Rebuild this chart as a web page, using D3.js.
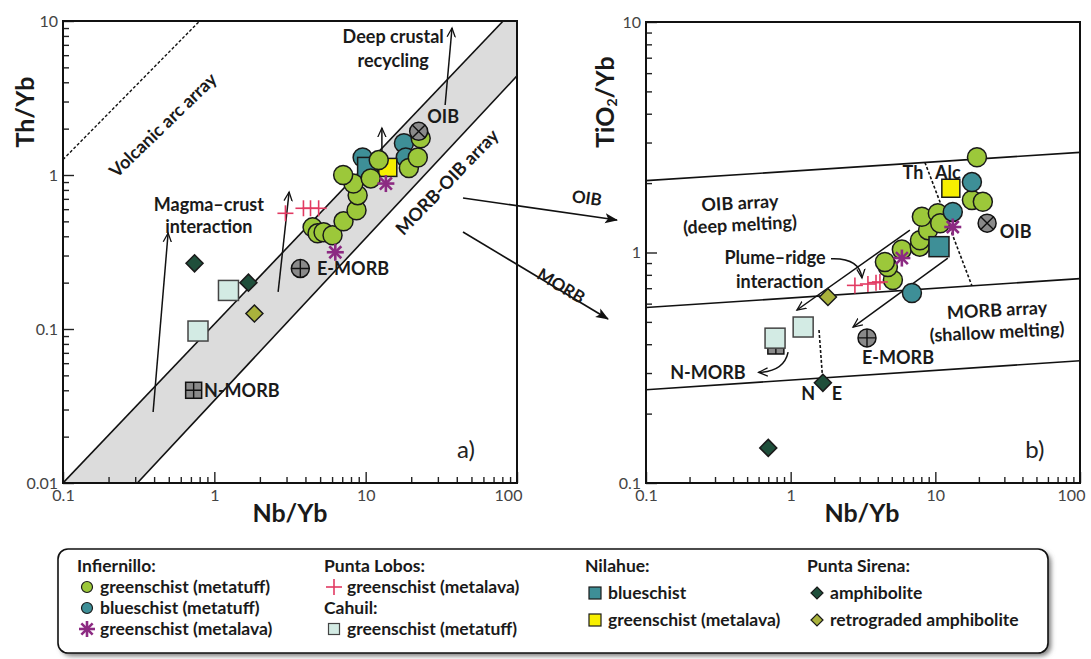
<!DOCTYPE html>
<html>
<head>
<meta charset="utf-8">
<script src="https://cdn.jsdelivr.net/npm/d3@7"></script>
<style>
body { margin: 0; background: #fff; }
text { font-family: Lato, "Open Sans", sans-serif; }
</style>
</head>
<body>
<svg id="fig" width="1091" height="659"></svg>
<script>
// ---- data, panel a) Th/Yb vs Nb/Yb ----
var infGreenTuffA = [[4.46,0.457],[4.81,0.418],[5.27,0.425],[6.04,0.406],[7.14,0.50],[8.7,0.59],[8.85,0.74],[8.3,0.88],[7.1,1.0],[10.8,0.95],[12.2,1.25],[19.3,1.11],[22.1,1.30],[23.1,1.73]];
var infBlueTuffA = [[9.55,1.30],[17.9,1.61],[18.4,1.30]];
var infGreenLavaA = [[13.6,0.88],[6.3,0.315]];
var lobosLavaA = [[2.95,0.564],[3.88,0.608],[4.32,0.608],[4.89,0.608]];
var cahuilTuffA = [[1.24,0.178],[0.78,0.097]];
var nilBlueA = [[10.3,1.12]];
var nilGreenLavaA = [[14.0,1.12]];
var sirenaAmphA = [[0.74,0.267],[1.68,0.20]];
var sirenaRetroA = [[1.84,0.126]];
var refA = [[0.73,0.04],[3.7,0.247],[22.4,1.92]];   // N-MORB, E-MORB, OIB

// ---- data, panel b) TiO2/Yb vs Nb/Yb ----
var infGreenTuffB = [[5.09,0.76],[4.70,0.865],[4.48,0.91],[5.87,1.03],[7.8,1.06],[7.83,1.13],[8.9,1.25],[8.07,1.43],[10.4,1.48],[10.8,1.34],[17.9,1.69],[21.3,1.66],[19.4,2.59]];
var infBlueTuffB = [[17.9,2.02],[13.2,1.50],[6.89,0.667]];
var infGreenLavaB = [[13.2,1.29],[5.87,0.946]];
var lobosLavaB = [[2.78,0.72],[3.42,0.73],[3.89,0.74],[4.14,0.745]];
var cahuilTuffB = [[0.78,0.425],[1.22,0.475]];
var nilBlueB = [[10.6,1.06]];
var nilGreenLavaB = [[12.8,1.90]];
var sirenaAmphB = [[0.70,0.142],[1.67,0.272]];
var sirenaRetroB = [[1.81,0.641]];
var refB = [[0.79,0.393],[3.37,0.426],[22.8,1.34]];

// array boundaries
var volcanicArc = [[0.1,1.26],[0.8,10]];
var morbOibBand = [[0.1,0.01],[81,10],[100,10],[100,4.4],[0.31,0.01]];
var oibArrayTop = [[0.1,2.05],[100,2.72]];
var morbOibDivide = [[0.1,0.577],[100,0.77]];
var morbArrayBottom = [[0.1,0.254],[100,0.339]];
var thAlcDivide = [[8.47,2.46],[17.9,0.717]];
var nEDivide = [[1.57,0.461],[1.67,0.274]];

var colors = {
  green: "#9cc83a", teal: "#3e8f97", yellow: "#f7ef00", purple: "#8c2a82",
  red: "#e23a62", mint: "#d3ebe4", amph: "#1f4f3b", retro: "#a9b23c", ref: "#8a8a8a"
};

var svg = d3.select("#fig");
var defs = svg.append("defs");
defs.append("marker").attr("id", "open").attr("viewBox", "0 -6 12 12")
  .attr("refX", 10).attr("refY", 0).attr("markerWidth", 11).attr("markerHeight", 11)
  .attr("markerUnits", "userSpaceOnUse").attr("orient", "auto")
  .append("path").attr("d", "M0,-4.5L10,0L0,4.5").attr("fill", "none").attr("stroke", "#111").attr("stroke-width", 1.4);
defs.append("marker").attr("id", "solid").attr("viewBox", "0 -6 14 12")
  .attr("refX", 12).attr("refY", 0).attr("markerWidth", 14).attr("markerHeight", 12)
  .attr("markerUnits", "userSpaceOnUse").attr("orient", "auto")
  .append("path").attr("d", "M0,-5L13,0L0,5L3,0Z").attr("fill", "#111");
var shadow = defs.append("filter").attr("id", "shadow").attr("x", "-5%").attr("y", "-20%").attr("width", "110%").attr("height", "150%");
shadow.append("feGaussianBlur").attr("stdDeviation", 2.5);

function logTicks(lo, hi) {
  var t = [];
  for (var e = Math.round(Math.log10(lo)); e < Math.round(Math.log10(hi)); e++) {
    for (var m = 1; m < 10; m++) t.push(m * Math.pow(10, e));
  }
  t.push(hi);
  return t;
}
function isMajor(d) { var l = Math.log10(d); return Math.abs(l - Math.round(l)) < 1e-6; }
function fmt(d) { return isMajor(d) ? d3.format("~g")(+d.toPrecision(3)) : ""; }

function makePanel(id, xr, yr, ydom) {
  var x = d3.scaleLog().domain([0.1, 100]).range(xr);
  var y = d3.scaleLog().domain(ydom).range(yr);
  var g = svg.append("g");
  defs.append("clipPath").attr("id", "clip" + id).append("rect")
    .attr("x", xr[0]).attr("y", yr[1]).attr("width", xr[1] - xr[0]).attr("height", yr[0] - yr[1]);
  var inner = g.append("g").attr("clip-path", "url(#clip" + id + ")");

  var xa = g.append("g").attr("transform", "translate(0," + yr[0] + ")")
    .call(d3.axisBottom(x).tickValues(logTicks(0.1, 100)).tickSizeInner(-6).tickSizeOuter(0).tickPadding(7).tickFormat(fmt));
  var ya = g.append("g").attr("transform", "translate(" + xr[0] + ",0)")
    .call(d3.axisLeft(y).tickValues(logTicks(ydom[0], ydom[1])).tickSizeInner(-6).tickSizeOuter(0).tickPadding(5).tickFormat(fmt));
  [xa, ya].forEach(function(a) {
    a.select(".domain").remove();
    a.selectAll("line").attr("stroke", "#222").attr("stroke-width", 1.4);
    a.selectAll("text").attr("font-size", 16).attr("fill", "#444").attr("font-family", "Lato, sans-serif");
  });
  xa.selectAll(".tick").filter(isMajor).select("line").attr("y2", -11);
  ya.selectAll(".tick").filter(isMajor).select("line").attr("x2", 11);
  // the last label sits a little left of its tick, as in the print
  xa.selectAll(".tick").filter(function(d) { return d === 100; }).select("text").attr("x", -9);
  g.append("rect").attr("x", xr[0]).attr("y", yr[1]).attr("width", xr[1] - xr[0]).attr("height", yr[0] - yr[1])
    .attr("fill", "none").attr("stroke", "#111").attr("stroke-width", 2);
  return {x: x, y: y, g: g, inner: inner};
}

var pa = makePanel("a", [63, 517], [483, 21], [0.01, 10]);
var pb = makePanel("b", [646, 1080], [483, 22], [0.1, 10]);

function lineOf(p, pts) {
  return d3.line().x(function(d) { return p.x(d[0]); }).y(function(d) { return p.y(d[1]); })(pts);
}

// panel a boundaries
pa.inner.insert("path", ":first-child").attr("d", lineOf(pa, morbOibBand) + "Z").attr("fill", "#dcdcdc");
pa.inner.append("path").attr("d", lineOf(pa, [morbOibBand[0], morbOibBand[1]])).attr("stroke", "#111").attr("stroke-width", 1.6).attr("fill", "none");
pa.inner.append("path").attr("d", lineOf(pa, [morbOibBand[3], morbOibBand[4]])).attr("stroke", "#111").attr("stroke-width", 1.6).attr("fill", "none");
pa.inner.append("path").attr("d", lineOf(pa, volcanicArc)).attr("stroke", "#111").attr("stroke-width", 1.4).attr("stroke-dasharray", "3,2").attr("fill", "none");

// panel b boundaries
[oibArrayTop, morbOibDivide, morbArrayBottom].forEach(function(l) {
  pb.inner.append("path").attr("d", lineOf(pb, l)).attr("stroke", "#111").attr("stroke-width", 1.6).attr("fill", "none");
});
[thAlcDivide, nEDivide].forEach(function(l) {
  pb.inner.append("path").attr("d", lineOf(pb, l)).attr("stroke", "#111").attr("stroke-width", 1.6).attr("stroke-dasharray", "3,2").attr("fill", "none");
});

// annotation arrows (data coordinates)
var arrowsA = [
  [[0.394,0.0289],[0.495,0.42]],
  [[2.64,0.174],[3.12,0.776]],
  [[12.8,1.39],[12.8,2.02]],
  [[33.5,2.85],[37.2,9.0]]
];
arrowsA.forEach(function(a) {
  pa.g.append("path").attr("d", lineOf(pa, a)).attr("stroke", "#111").attr("stroke-width", 1.5).attr("fill", "none").attr("marker-end", "url(#open)");
});
var arrowsB = [
  [[6.67,1.25],[1.105,0.563]],
  [[12.2,0.946],[2.70,0.475]]
];
arrowsB.forEach(function(a) {
  pb.g.append("path").attr("d", lineOf(pb, a)).attr("stroke", "#111").attr("stroke-width", 1.5).attr("fill", "none").attr("marker-end", "url(#open)");
});
// curved arrows in panel b: start, control, end
var curvesB = [
  [[1.9,0.94],[3.0,0.95],[3.11,0.775]],
  [[0.96,0.37],[0.9,0.305],[0.6,0.302]]
];
curvesB.forEach(function(c) {
  var p = c.map(function(d) { return [pb.x(d[0]), pb.y(d[1])]; });
  pb.g.append("path").attr("d", "M" + p[0] + "Q" + p[1] + " " + p[2])
    .attr("stroke", "#111").attr("stroke-width", 1.5).attr("fill", "none").attr("marker-end", "url(#open)");
});

// ---- symbols ----
function addMarks(p, pts, kind, s) {
  var m = p.g.selectAll(null).data(pts).enter().append("g")
    .attr("transform", function(d) { return "translate(" + p.x(d[0]) + "," + p.y(d[1]) + ")"; });
  drawSymbol(m, kind, s);
}
function drawSymbol(m, kind, s) {
  var sw = s > 7 ? 1.5 : 1.2;
  if (kind === "greenTuff" || kind === "blueTuff") {
    m.append("circle").attr("r", s).attr("fill", kind === "greenTuff" ? colors.green : colors.teal).attr("stroke", "#1a1a1a").attr("stroke-width", sw);
  } else if (kind === "nilBlue" || kind === "nilGreen" || kind === "cahuil") {
    var f = kind === "nilBlue" ? colors.teal : (kind === "nilGreen" ? colors.yellow : colors.mint);
    m.append("rect").attr("x", -s).attr("y", -s).attr("width", 2 * s).attr("height", 2 * s)
      .attr("fill", f).attr("stroke", kind === "cahuil" ? "#444" : "#1a1a1a").attr("stroke-width", sw);
  } else if (kind === "amph" || kind === "retro") {
    m.append("path").attr("d", "M0," + (-s) + "L" + s + ",0L0," + s + "L" + (-s) + ",0Z")
      .attr("fill", kind === "amph" ? colors.amph : colors.retro).attr("stroke", "#1a1a1a").attr("stroke-width", sw);
  } else if (kind === "star") {
    [0, 45, 90, 135].forEach(function(a) {
      m.append("line").attr("x1", -s).attr("x2", s).attr("y1", 0).attr("y2", 0)
        .attr("transform", "rotate(" + a + ")").attr("stroke", colors.purple).attr("stroke-width", s > 7 ? 2.6 : 2.2);
    });
  } else if (kind === "plus") {
    m.append("line").attr("x1", -s).attr("x2", s).attr("stroke", colors.red).attr("stroke-width", 1.6);
    m.append("line").attr("y1", -s).attr("y2", s).attr("stroke", colors.red).attr("stroke-width", 1.6);
  }
}
function addRefs(p, pts) {
  var m = p.g.selectAll(null).data(pts).enter().append("g")
    .attr("transform", function(d) { return "translate(" + p.x(d[0]) + "," + p.y(d[1]) + ")"; });
  m.each(function(d, i) {
    var e = d3.select(this);
    if (i === 0) {
      e.append("rect").attr("x", -8).attr("y", -8).attr("width", 16).attr("height", 16).attr("fill", colors.ref).attr("stroke", "#111").attr("stroke-width", 1.5);
      e.append("path").attr("d", "M0,-8V8M-8,0H8").attr("stroke", "#111").attr("stroke-width", 1.4);
    } else {
      e.append("circle").attr("r", 9).attr("fill", colors.ref).attr("stroke", "#111").attr("stroke-width", 1.5);
      e.append("path").attr("d", i === 1 ? "M0,-9V9M-9,0H9" : "M-6.4,-6.4L6.4,6.4M-6.4,6.4L6.4,-6.4")
        .attr("stroke", "#111").attr("stroke-width", 1.4);
    }
  });
}

// panel a marks
addMarks(pa, lobosLavaA, "plus", 8);
addMarks(pa, cahuilTuffA, "cahuil", 10);
addMarks(pa, sirenaAmphA, "amph", 8.5);
addMarks(pa, sirenaRetroA, "retro", 8.5);
addMarks(pa, infBlueTuffA, "blueTuff", 9.5);
addMarks(pa, nilBlueA, "nilBlue", 10);
addMarks(pa, nilGreenLavaA, "nilGreen", 9);
addMarks(pa, infGreenTuffA, "greenTuff", 9.5);
addMarks(pa, infGreenLavaA, "star", 8.5);
addRefs(pa, refA);

// panel b marks
addRefs(pb, refB);
addMarks(pb, cahuilTuffB, "cahuil", 10);
addMarks(pb, sirenaAmphB, "amph", 8.5);
addMarks(pb, sirenaRetroB, "retro", 8.5);
addMarks(pb, infGreenTuffB, "greenTuff", 9.5);
addMarks(pb, infBlueTuffB, "blueTuff", 9.5);
addMarks(pb, nilBlueB, "nilBlue", 10);
addMarks(pb, nilGreenLavaB, "nilGreen", 9);
addMarks(pb, infGreenLavaB, "star", 8.5);
addMarks(pb, lobosLavaB, "plus", 8);

// ---- labels (data coordinates) ----
var labelsA = [
  {t: "Volcanic arc array", x: 0.458, y: 2.11, r: -44},
  {t: "MORB-OIB array", x: 34.5, y: 0.90, r: -46},
  {t: "Deep crustal", x: 15.2, y: 7.87},
  {t: "recycling", x: 15.2, y: 5.5},
  {t: "Magma\u2013crust", x: 0.92, y: 0.64},
  {t: "interaction", x: 0.92, y: 0.46},
  {t: "OIB", x: 32.5, y: 2.38},
  {t: "E-MORB", x: 4.77, y: 0.247, a: "start"},
  {t: "N-MORB", x: 0.855, y: 0.04, a: "start"}
];
var labelsB = [
  {t: "Th", x: 7.0, y: 2.21},
  {t: "Alc", x: 12.2, y: 2.21},
  {t: "OIB array", x: 0.446, y: 1.64, r: -3},
  {t: "(deep melting)", x: 0.446, y: 1.32, r: -3},
  {t: "Plume\u2013ridge", x: 0.78, y: 0.946},
  {t: "interaction", x: 0.84, y: 0.745},
  {t: "MORB array", x: 26.7, y: 0.563, r: -3},
  {t: "(shallow melting)", x: 26.7, y: 0.452, r: -3},
  {t: "E-MORB", x: 5.52, y: 0.348},
  {t: "N-MORB", x: 0.268, y: 0.30},
  {t: "OIB", x: 27.9, y: 1.23, a: "start"},
  {t: "N", x: 1.32, y: 0.245},
  {t: "E", x: 2.09, y: 0.245}
];
function addLabels(p, labels) {
  labels.forEach(function(l) {
    var px = p.x(l.x), py = p.y(l.y);
    p.g.append("text").attr("x", px).attr("y", py).attr("dy", "0.35em")
      .attr("text-anchor", l.a || "middle").attr("font-size", 18).attr("font-weight", 700).attr("fill", "#1a1a1a")
      .attr("transform", l.r ? "rotate(" + l.r + "," + px + "," + py + ")" : null)
      .text(l.t);
  });
}
addLabels(pa, labelsA);
addLabels(pb, labelsB);

pa.g.append("text").attr("x", pa.x(46)).attr("y", pa.y(0.0164)).attr("dy", "0.35em").attr("text-anchor", "middle")
  .attr("font-size", 24).attr("fill", "#222").text("a)");
pb.g.append("text").attr("x", pb.x(48.8)).attr("y", pb.y(0.139)).attr("dy", "0.35em").attr("text-anchor", "middle")
  .attr("font-size", 24).attr("fill", "#222").text("b)");

// axis titles
svg.append("text").attr("transform", "translate(34,112) rotate(-90)").attr("text-anchor", "middle")
  .attr("font-size", 25).attr("font-weight", 700).attr("fill", "#1a1a1a").text("Th/Yb");
var ti = svg.append("text").attr("transform", "translate(614,102) rotate(-90)").attr("text-anchor", "middle")
  .attr("font-size", 25).attr("font-weight", 700).attr("fill", "#1a1a1a");
ti.append("tspan").text("TiO");
ti.append("tspan").attr("font-size", 14).attr("dy", 3).text("2");
ti.append("tspan").attr("dy", -3).text("/Yb");
svg.append("text").attr("x", 290).attr("y", 522).attr("text-anchor", "middle")
  .attr("font-size", 25).attr("font-weight", 700).attr("fill", "#1a1a1a").text("Nb/Yb");
svg.append("text").attr("x", 862).attr("y", 522).attr("text-anchor", "middle")
  .attr("font-size", 25).attr("font-weight", 700).attr("fill", "#1a1a1a").text("Nb/Yb");

// connectors between the panels
var connectors = [
  {t: "OIB", from: [463,198], to: [617,220], lx: 586, ly: 204, r: 8},
  {t: "MORB", from: [463,232], to: [608,319], lx: 558, ly: 291, r: 31}
];
connectors.forEach(function(c) {
  svg.append("line").attr("x1", c.from[0]).attr("y1", c.from[1]).attr("x2", c.to[0]).attr("y2", c.to[1])
    .attr("stroke", "#111").attr("stroke-width", 1.6).attr("marker-end", "url(#solid)");
  svg.append("text").attr("x", c.lx).attr("y", c.ly).attr("text-anchor", "middle")
    .attr("transform", "rotate(" + c.r + "," + c.lx + "," + c.ly + ")")
    .attr("font-size", 17).attr("font-weight", 700).attr("fill", "#1a1a1a").text(c.t);
});

// ---- legend ----
var legendGroups = [
  {title: "Infiernillo:", x: 77, items: [["greenTuff", "greenschist (metatuff)"], ["blueTuff", "blueschist (metatuff)"], ["star", "greenschist (metalava)"]]},
  {title: "Punta Lobos:", x: 324, items: [["plus", "greenschist (metalava)"]], sub: {title: "Cahuil:", items: [["cahuil", "greenschist (metatuff)"]]}},
  {title: "Nilahue:", x: 585, items: [["nilBlue", "blueschist"], ["nilGreen", "greenschist (metalava)"]], gap: 27},
  {title: "Punta Sirena:", x: 807, items: [["amph", "amphibolite"], ["retro", "retrograded amphibolite"]], gap: 27}
];
var lg = svg.append("g");
lg.append("rect").attr("x", 61).attr("y", 552).attr("width", 990).attr("height", 104).attr("rx", 10)
  .attr("fill", "#777").attr("filter", "url(#shadow)");
lg.append("rect").attr("x", 58).attr("y", 549).attr("width", 990).attr("height", 104).attr("rx", 10)
  .attr("fill", "#fff").attr("stroke", "#111").attr("stroke-width", 1.6);
var legendSize = {greenTuff: 5.5, blueTuff: 5.5, star: 8, plus: 8, cahuil: 5.5, nilBlue: 6, nilGreen: 6, amph: 6, retro: 6};
function legendText(x, y, t) {
  lg.append("text").attr("x", x).attr("y", y).attr("dy", "0.35em").attr("font-size", 17.5)
    .attr("font-weight", 700).attr("fill", "#1a1a1a").text(t);
}
legendGroups.forEach(function(gr) {
  var gap = gr.gap || 21;
  legendText(gr.x, 566, gr.title);
  var yy = 566;
  gr.items.forEach(function(it) {
    yy += gap;
    var s = lg.append("g").attr("transform", "translate(" + (gr.x + 10) + "," + yy + ")");
    drawSymbol(s, it[0], legendSize[it[0]]);
    legendText(gr.x + 23, yy, it[1]);
  });
  if (gr.sub) {
    yy += 21;
    legendText(gr.x, yy, gr.sub.title);
    gr.sub.items.forEach(function(it) {
      yy += 21;
      var s = lg.append("g").attr("transform", "translate(" + (gr.x + 10) + "," + yy + ")");
      drawSymbol(s, it[0], legendSize[it[0]]);
      legendText(gr.x + 23, yy, it[1]);
    });
  }
});
</script>
</body>
</html>
